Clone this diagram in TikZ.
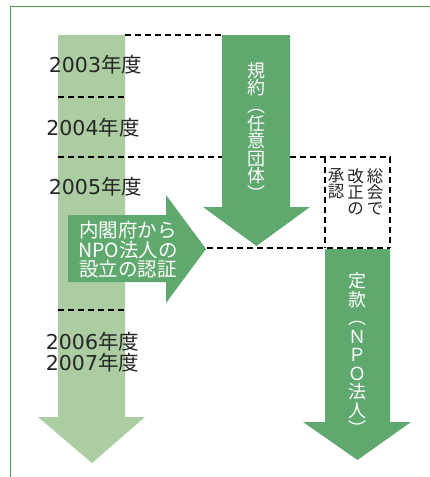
\documentclass[tikz,border=0pt]{standalone}
\usepackage{fontspec}
\newfontfamily\jp{Noto Sans CJK JP}
\newfontfamily\dv{DejaVu Sans}
\definecolor{dkgreen}{RGB}{95,168,110}
\definecolor{ltgreen}{RGB}{172,205,162}
\definecolor{framegreen}{RGB}{72,160,72}
\tikzset{
  dash line/.style={draw=black, line width=1.1pt, dash pattern=on 6pt off 4pt},
  year/.style={font=\fontsize{20.5}{21}\selectfont, text=black!85, align=left, inner sep=0pt},
  whitetext/.style={font=\jp\fontsize{19.5}{19.5}\selectfont, text=white, align=center, inner sep=0pt},
  vwhite/.style={font=\jp\fontsize{18}{17.6}\selectfont, text=white, align=center, inner sep=0pt},
  vblack/.style={font=\jp\fontsize{16.5}{16}\selectfont, text=black!85, align=center, inner sep=0pt, anchor=north},
}
\begin{document}
\begin{tikzpicture}[x=1pt,y=-1pt]
\useasboundingbox (0,0) rectangle (430,477);
\fill[white] (0,0) rectangle (430,477);
% frame
\draw[framegreen, line width=1.8pt] (10.5,477) -- (10.5,6.5) -- (430,6.5);
% light timeline arrow
\fill[ltgreen] (58,35) -- (125,35) -- (125,417) -- (145,417) -- (92,463) -- (38,417) -- (58,417) -- cycle;
% dashed lines
\draw[dash line] (125,35) -- (222,35);
\draw[dash line] (58,97) -- (125,97);
\draw[dash line] (58,157) -- (222,157);
\draw[dash line] (290,157) -- (390,157) -- (390,248);
\draw[dash line] (325,157) -- (325,248);
\draw[dash line] (207,248) -- (390,248);
\draw[dash line] (58,310) -- (125,310);
% middle arrow
\fill[dkgreen] (222,35) -- (290,35) -- (290,207) -- (310,207) -- (256.5,246) -- (203,207) -- (222,207) -- cycle;
% right arrow
\fill[dkgreen] (325,249) -- (390,249) -- (390,422) -- (411,422) -- (357.5,460) -- (303,422) -- (325,422) -- cycle;
% horizontal arrow
\fill[dkgreen] (68,215) -- (166,215) -- (166,195) -- (206,249) -- (166,303) -- (166,282) -- (68,282) -- cycle;
% year labels
\node[year] (y3) at (95.5,65) {{\dv 2003}{\jp 年度}};
\node[year] (y4) at (93,128) {{\dv 2004}{\jp 年度}};
\node[year] (y5) at (95.5,187) {{\dv 2005}{\jp 年度}};
\node[year] (y67) at (92.5,352.5) {{\dv 2006}{\jp 年度}\\{\dv 2007}{\jp 年度}};
% arrow texts
\node[whitetext] (cab) at (128,250) {内閣府から\\NPO法人の\\設立の認証};
\node[vwhite] (kiyaku) at (256,131.5) {規\\約\\︵\\任\\意\\団\\体\\︶};
\node[vwhite, font=\jp\fontsize{18}{18.5}\selectfont] (teikan) at (357.5,354) {定\\款\\︵\\Ｎ\\Ｐ\\Ｏ\\法\\人\\︶};
% box text (vertical, right to left)
\node[vblack] (c1) at (375,168) {総\\会\\で};
\node[vblack] (c2) at (355.5,168) {改\\正\\の};
\node[vblack] (c3) at (336,168) {承\\認};
\end{tikzpicture}
\end{document}
